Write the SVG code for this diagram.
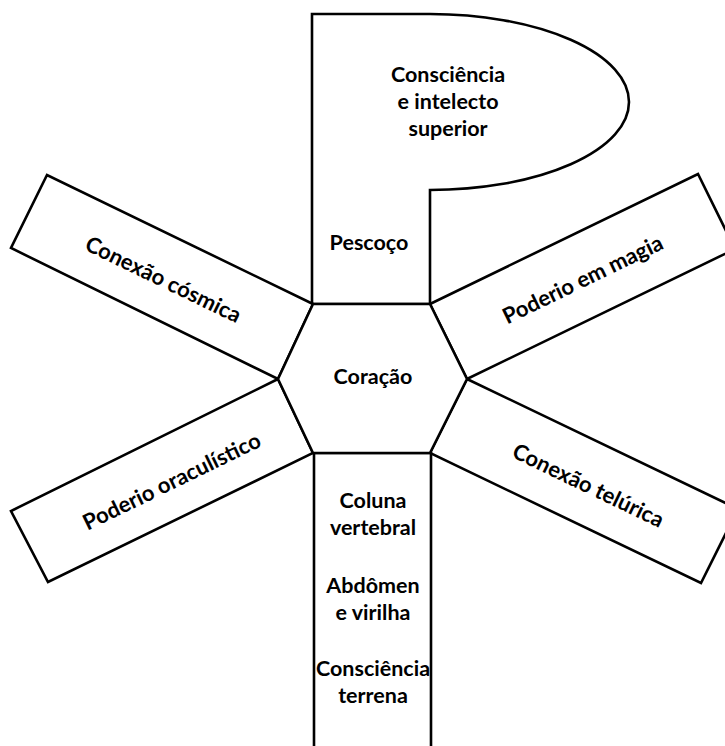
<svg xmlns="http://www.w3.org/2000/svg" width="725" height="746" viewBox="0 0 725 746">
<style>
.s{fill:#fff;stroke:#000;stroke-width:2.6;stroke-linejoin:miter}
.t{font-family:Lato,"Open Sans","Liberation Sans",sans-serif;font-weight:bold;font-size:21.5px;fill:#000;text-anchor:middle}
.r{font-size:22px}
</style>
<rect width="725" height="746" fill="#fff"/>
<g id="head">
<path class="s" d="M430,304 L430,190 A199,88 0 0 0 430,14 L312,14 L312,304 Z"/>
<text class="t" x="448" y="82">Consciência</text>
<text class="t" x="448" y="109">e intelecto</text>
<text class="t" x="448" y="136">superior</text>
<text class="t" x="369" y="250">Pescoço</text>
</g>
<g id="cosmica">
<polygon class="s" points="313,304 47,175 11,248 278,379"/>
<text class="t r" transform="translate(163,280) rotate(25.9)" y="7">Conexão cósmica</text>
</g>
<g id="magia">
<polygon class="s" points="430,304 698,174 735,249 467,379"/>
<text class="t r" transform="translate(583,280) rotate(-25.9)" y="7">Poderio em magia</text>
</g>
<g id="telurica">
<polygon class="s" points="467,379 738,509 701,583 430,453"/>
<text class="t r" transform="translate(588,486) rotate(25.7)" y="7">Conexão telúrica</text>
</g>
<g id="oraculistico">
<polygon class="s" points="278,379 11,511 48,582 313,453"/>
<text class="t r" transform="translate(172,482) rotate(-25.9)" y="7">Poderio oraculístico</text>
</g>
<g id="coluna">
<path class="s" d="M314,760 L314,453 L431,453 L431,760"/>
<text class="t" x="373" y="508">Coluna</text>
<text class="t" x="373" y="535">vertebral</text>
<text class="t" x="373" y="593">Abdômen</text>
<text class="t" x="373" y="620">e virilha</text>
<text class="t" x="373" y="676">Consciência</text>
<text class="t" x="373" y="703">terrena</text>
</g>
<g id="coracao">
<polygon class="s" points="313,304 430,304 467,379 430,453 313,453 278,379"/>
<text class="t" x="373" y="384">Coração</text>
</g>
<g id="connectors"></g>
</svg>
